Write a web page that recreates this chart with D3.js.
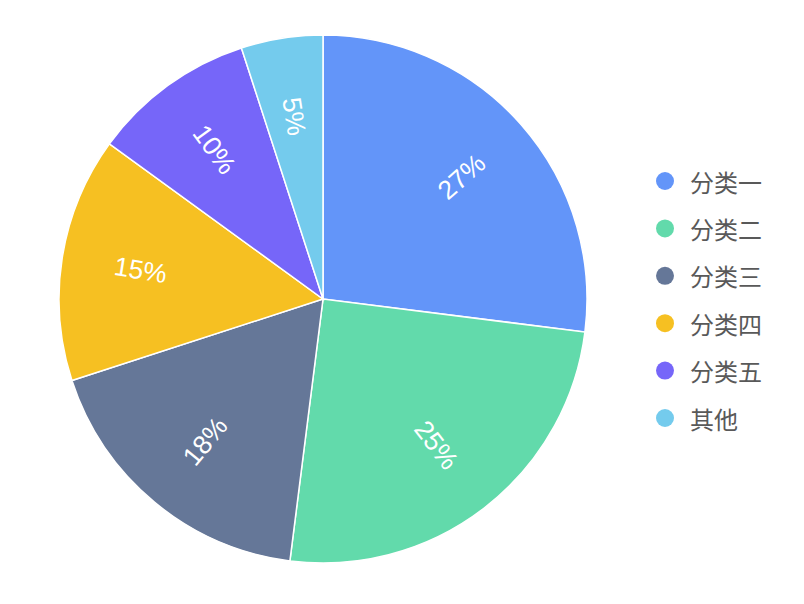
<!DOCTYPE html>
<html><head><meta charset="utf-8">
<script src="https://cdn.jsdelivr.net/npm/d3@7"></script>
<style>body{margin:0;background:#fff;}</style>
</head><body>
<svg id="chart" width="804" height="604"></svg>
<script>
const categories = ["分类一","分类二","分类三","分类四","分类五","其他"];
const values = [27, 25, 18, 15, 10, 5];
const colors = ["#5B8FF9","#5AD8A6","#5D7092","#F6BD16","#6F5EF9","#6DC8EC"];

const svg = d3.select("#chart");
const cx = 323, cy = 299, R = 264;
const data = categories.map((c,i)=>({cat:c, value:values[i], color:colors[i]}));
const pie = d3.pie().value(d=>d.value).sort(null);
const arcs = pie(data);
const arc = d3.arc().innerRadius(0).outerRadius(R);
const g = svg.append("g").attr("transform",`translate(${cx},${cy})`);
g.selectAll("path").data(arcs).join("path")
  .attr("d",arc).attr("fill",d=>d.data.color).attr("fill-opacity",0.95)
  .attr("stroke","#fff").attr("stroke-width",1.5);
const total = d3.sum(values);
g.selectAll("text.lbl").data(arcs).join("text").attr("class","lbl")
  .each(function(d){
    const a = (d.startAngle+d.endAngle)/2;
    const r = R*0.7;
    const x = Math.sin(a)*r, y = -Math.cos(a)*r;
    let rot = Math.atan2(-Math.cos(a), Math.sin(a))*180/Math.PI;
    if (rot > 90) rot -= 180;
    if (rot < -90) rot += 180;
    d3.select(this).attr("transform",`translate(${x},${y}) rotate(${rot})`);
  })
  .attr("text-anchor","middle").attr("dominant-baseline","central")
  .attr("fill","#fff").attr("font-family","Helvetica, Arial, 'Liberation Sans', sans-serif")
  .attr("font-size",26.5)
  .text(d=>Math.round(d.data.value/total*100)+"%");

const legend = svg.append("g");
const ly = d3.scalePoint().domain(categories).range([181,418]);
const items = legend.selectAll("g").data(data).join("g")
  .attr("transform",d=>`translate(665,${ly(d.cat)})`);
items.append("circle").attr("r",9).attr("fill",d=>d.color).attr("fill-opacity",0.95);
items.append("text").attr("x",25).attr("dominant-baseline","central")
  .attr("font-family","'Noto Sans CJK SC', sans-serif").attr("font-size",24)
  .attr("fill","#595959").text(d=>d.cat);
</script>
</body></html>
